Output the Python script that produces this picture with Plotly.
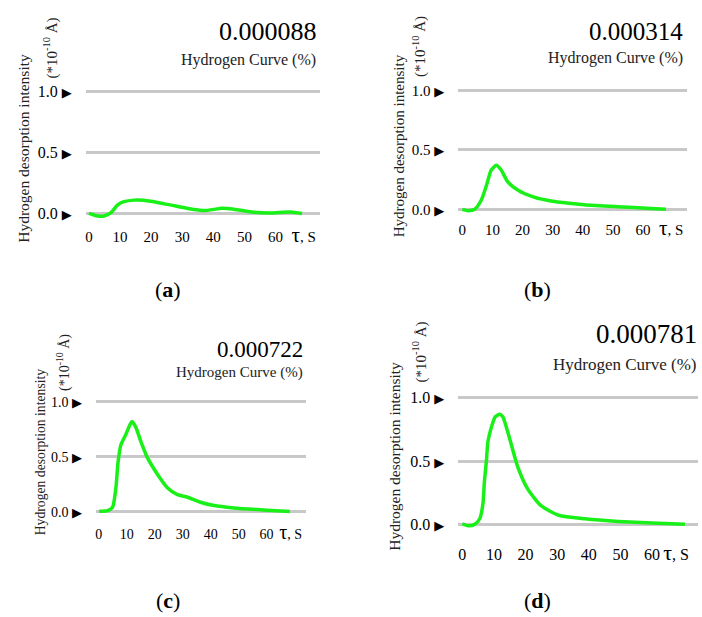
import plotly.graph_objects as go

W, H = 702, 617
FONT = "Liberation Serif, DejaVu Serif, Times New Roman, serif"

# ---- data ----
panel_titles = ["0.000088", "0.000314", "0.000722", "0.000781"]
panel_letters = ["a", "b", "c", "d"]
x_ticks = [0, 10, 20, 30, 40, 50, 60]
y_ticks = [0.0, 0.5, 1.0]
y_tick_labels = ["0.0", "0.5", "1.0"]
x_unit_label = "τ, S"
legend_label = "Hydrogen Curve (%)"
y_title_1 = "Hydrogen desorption intensity"
y_title_2 = "(*10<sup>-10</sup> Å)"

t_a = [0, 2.8, 4.9, 7.1, 9.2, 11.3, 14.5, 17.7, 25.2, 31.7, 37.0, 42.9, 46.6, 53.0, 58.4, 64.8, 68.5]
h_a = [0.0, -0.022, -0.022, 0.005, 0.068, 0.095, 0.108, 0.106, 0.073, 0.04, 0.022, 0.041, 0.033, 0.008, 0.003, 0.01, -0.002]

t_b = [0, 1.9, 4.1, 6.3, 8.0, 9.6, 11.3, 12.9, 15.1, 18.5, 24.0, 29.5, 40.5, 51.6, 62.6, 67.6]
h_b = [0.0, -0.011, 0.0, 0.078, 0.2, 0.33, 0.37, 0.33, 0.23, 0.16, 0.1, 0.07, 0.039, 0.022, 0.008, 0.0]

t_c = [0.1, 3.1, 4.9, 6.1, 6.9, 7.9, 9.6, 11.8, 13.2, 15.0, 17.4, 21.0, 24.5, 28.1, 31.7, 36.4, 41.2, 48.3, 60.2, 68.3]
h_c = [0.006, 0.012, 0.042, 0.22, 0.46, 0.61, 0.7, 0.82, 0.77, 0.64, 0.49, 0.34, 0.22, 0.157, 0.133, 0.087, 0.057, 0.036, 0.015, 0.003]

t_d = [0, 1.8, 3.9, 5.5, 6.5, 7.0, 7.6, 8.1, 9.2, 10.4, 11.8, 12.8, 13.9, 15.5, 17.6, 20.7, 24.9, 30.5, 38.8, 49.4, 60.0, 70.4]
h_d = [0.008, -0.008, 0.003, 0.047, 0.163, 0.345, 0.5, 0.655, 0.77, 0.85, 0.87, 0.85, 0.77, 0.63, 0.45, 0.28, 0.15, 0.075, 0.047, 0.026, 0.013, 0.003]

series = [(t_a, h_a), (t_b, h_b), (t_c, h_c), (t_d, h_d)]

# ---- pixel geometry of each panel ----
geom = [
    dict(gl=85, gr=319, x0=88, x60=275, y0=210, y1=87, bot=223, top_extra=0.03,
         title=(318, 27, 26), leg=(317, 55, 16), yt1=(23, 144, 15.5), yt2=(50, 43, 15),
         tick=15, ytick=16, tau=69.0, letter=(167, 287)),
    dict(gl=458, gr=687, x0=462, x60=643, y0=206, y1=86, bot=216, top_extra=0.03,
         title=(685, 27, 25), leg=(685, 53, 16), yt1=(398, 142, 15), yt2=(419, 42, 15),
         tick=15, ytick=15, tau=69.3, letter=(537, 287)),
    dict(gl=95, gr=305, x0=98, x60=266, y0=511, y1=400, bot=523, top_extra=0.03,
         title=(304, 347, 23), leg=(304, 371, 15), yt1=(39, 450, 13.7), yt2=(62, 360, 14),
         tick=14, ytick=14, tau=68.6, letter=(167, 600)),
    dict(gl=458, gr=698, x0=462, x60=652, y0=524, y1=396, bot=542, top_extra=0.03,
         title=(699, 332, 27), leg=(699, 362, 17), yt1=(394, 455, 15.5), yt2=(419, 350, 15),
         tick=16, ytick=16, tau=67.6, letter=(537, 600)),
]

def px_x(x):
    return x / W

def px_y(y):
    return 1 - y / H

fig = go.Figure()
annotations = []

for i, (g, (t, h)) in enumerate(zip(geom, series)):
    n = i + 1
    xs = "x" if n == 1 else f"x{n}"
    ys = "y" if n == 1 else f"y{n}"
    sx = (g["x60"] - g["x0"]) / 60.0
    sy = (g["y0"] - g["y1"])
    xmin = (g["gl"] - g["x0"]) / sx
    xmax = (g["gr"] - g["x0"]) / sx
    ymin = -(g["bot"] - g["y0"]) / sy
    ymax = 1 + g["top_extra"]
    top_px = g["y1"] - g["top_extra"] * sy

    fig.add_trace(go.Scatter(
        x=t, y=h, mode="lines", xaxis=xs, yaxis=ys, showlegend=False,
        line=dict(color="rgb(24,240,24)", width=3.5, shape="spline", smoothing=0.6),
        hoverinfo="skip", cliponaxis=False))

    tau_txt = '<span style="font-size:%dpx">τ</span>, S' % (g["tick"] + 6)
    xa = dict(domain=[px_x(g["gl"]), px_x(g["gr"])], range=[xmin, xmax],
              showgrid=False, zeroline=False, showline=False,
              tickvals=x_ticks + [g["tau"]],
              ticktext=[str(v) for v in x_ticks] + [tau_txt],
              tickfont=dict(family=FONT, size=g["tick"], color="black"),
              ticks="", anchor=ys, fixedrange=True)
    ya = dict(domain=[px_y(g["bot"]), px_y(top_px)], range=[ymin, ymax],
              tickvals=y_ticks,
              ticktext=[lbl + ' <span style="font-size:13px">▶</span>' for lbl in y_tick_labels],
              tickfont=dict(family=FONT, size=g["ytick"], color="black"),
              showgrid=True, gridcolor="rgb(200,200,200)", gridwidth=3,
              zeroline=False, showline=False,
              ticks="outside", ticklen=10, tickcolor="rgba(0,0,0,0)",
              anchor=xs, fixedrange=True)
    fig.layout["xaxis" if n == 1 else f"xaxis{n}"] = xa
    fig.layout["yaxis" if n == 1 else f"yaxis{n}"] = ya

    tx, ty, ts = g["title"]
    annotations.append(dict(x=px_x(tx), y=px_y(ty), xref="paper", yref="paper",
                            text=panel_titles[i], showarrow=False, xanchor="right", yanchor="middle",
                            font=dict(family=FONT, size=ts, color="black")))
    lx, ly, ls = g["leg"]
    annotations.append(dict(x=px_x(lx), y=px_y(ly), xref="paper", yref="paper",
                            text=legend_label, showarrow=False, xanchor="right", yanchor="middle",
                            font=dict(family=FONT, size=ls, color="#222")))
    ax1, ay1, as1 = g["yt1"]
    annotations.append(dict(x=px_x(ax1), y=px_y(ay1), xref="paper", yref="paper",
                            text=y_title_1, showarrow=False, textangle=-90,
                            xanchor="center", yanchor="middle",
                            font=dict(family=FONT, size=as1, color="#222")))
    ax2, ay2, as2 = g["yt2"]
    annotations.append(dict(x=px_x(ax2), y=px_y(ay2), xref="paper", yref="paper",
                            text=y_title_2, showarrow=False, textangle=-90,
                            xanchor="center", yanchor="middle",
                            font=dict(family=FONT, size=as2, color="#222")))
    lx2, ly2 = g["letter"]
    annotations.append(dict(x=px_x(lx2), y=px_y(ly2), xref="paper", yref="paper",
                            text="(<b>%s</b>)" % panel_letters[i], showarrow=False,
                            xanchor="center", yanchor="middle",
                            font=dict(family=FONT, size=22, color="black")))

fig.update_layout(width=W, height=H, margin=dict(l=0, r=0, t=0, b=0),
                  paper_bgcolor="white", plot_bgcolor="white",
                  annotations=annotations, showlegend=False)

fig.write_html("out.html", config={"displayModeBar": False})
